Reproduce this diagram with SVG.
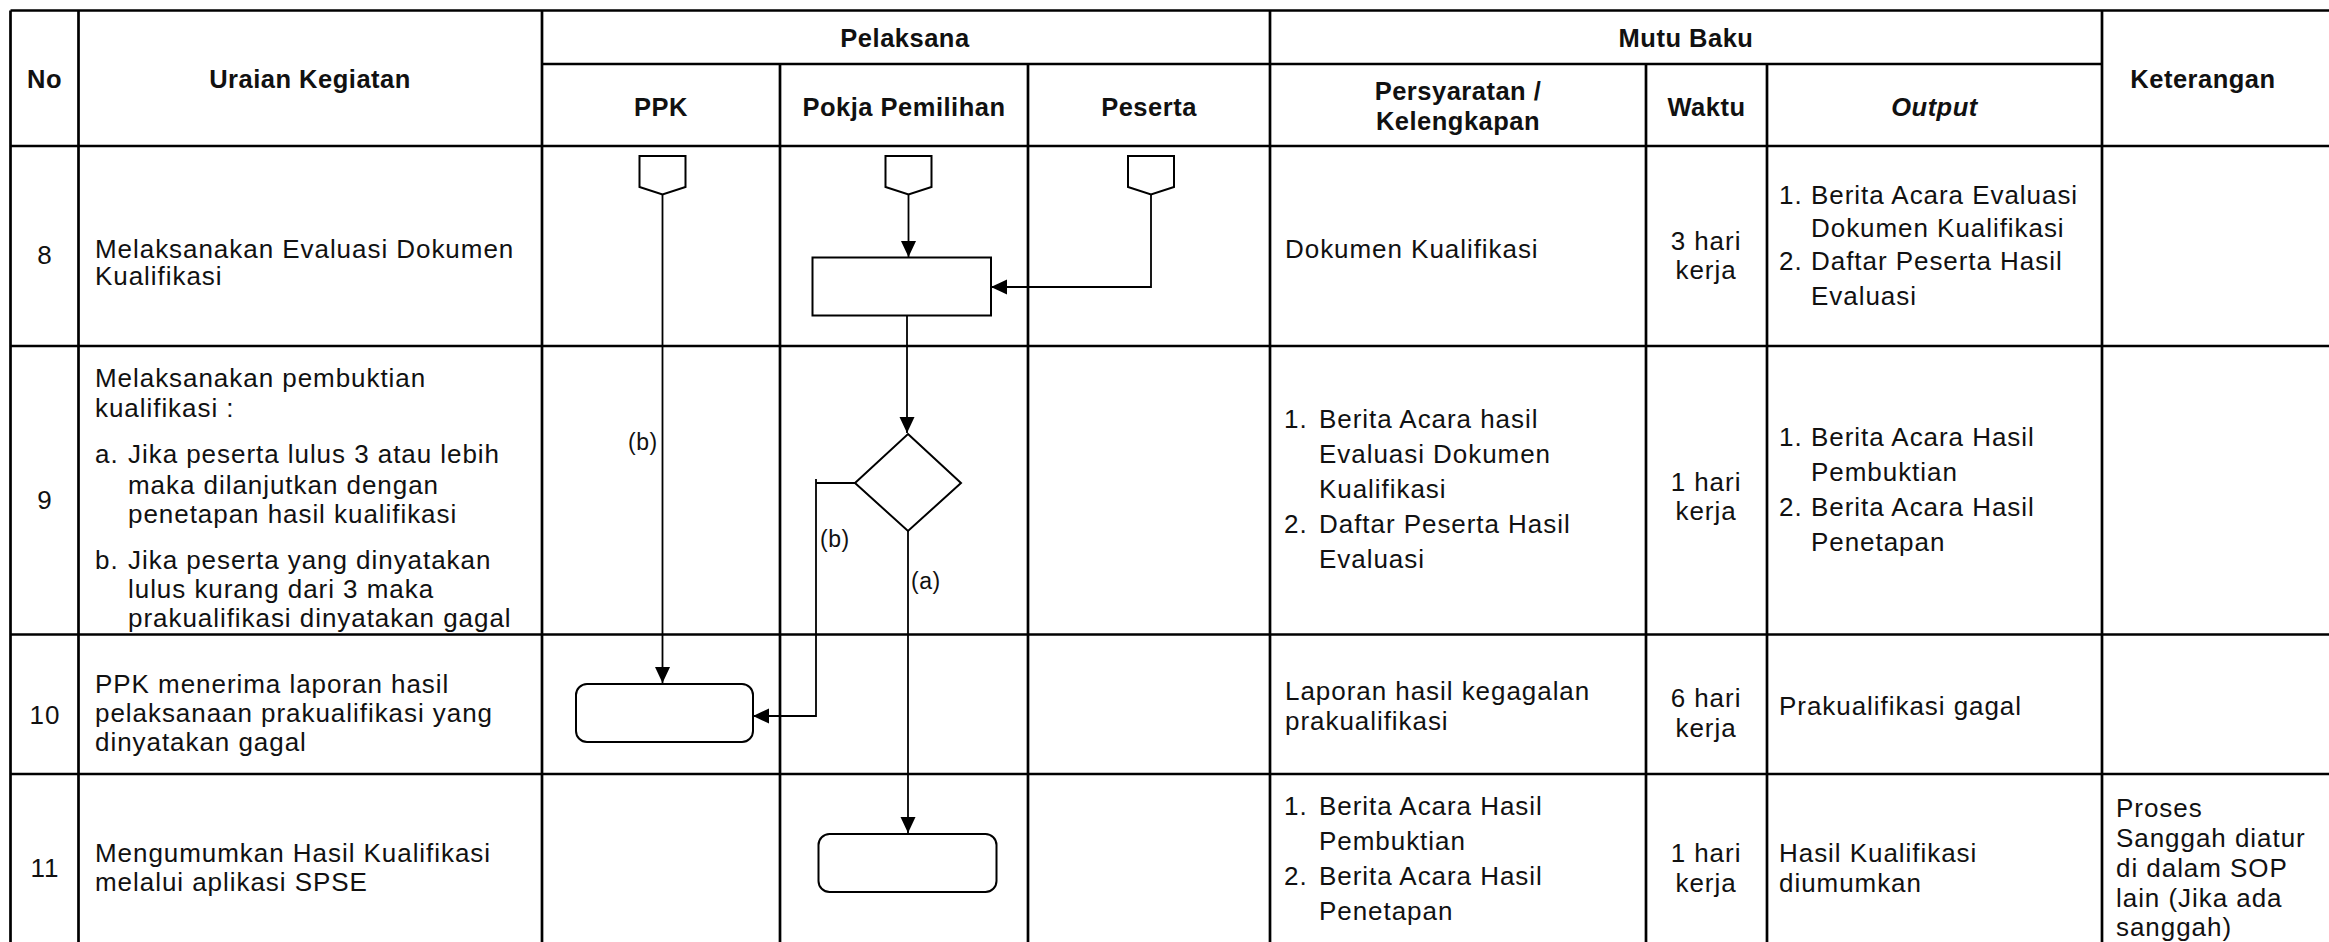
<svg xmlns="http://www.w3.org/2000/svg" width="2329" height="942" viewBox="0 0 2329 942">
<style>
.tl{stroke:#000;stroke-width:2.7;fill:none}
.cn{stroke:#000;stroke-width:1.8;fill:none}
.sh{stroke:#000;stroke-width:2;fill:#fff}
text{font-family:"Liberation Sans",Arial,sans-serif;font-size:26px;letter-spacing:0.95px;fill:#111}
.h{font-weight:bold;font-size:25.5px;letter-spacing:0.5px}
.c{text-anchor:middle}
.i{font-style:italic}
.lb{font-size:23px;letter-spacing:0.5px}
</style>
<defs>
<marker id="ah" markerUnits="userSpaceOnUse" markerWidth="16" markerHeight="16" refX="16" refY="7.5" orient="auto">
<path d="M0,0 L16,7.5 L0,15 z" fill="#000"/>
</marker>
</defs>
<rect width="2329" height="942" fill="#fff"/>
<g id="table">
<path class="tl" d="M10.5,10.5 H2329 M10.5,10.5 V942 M78.5,10.5 V942 M542,10.5 V942 M1270,10.5 V942 M2102,10.5 V942 M542,64 H2102 M780,64 V942 M1028,64 V942 M1646,64 V942 M1767,64 V942 M10.5,146 H2329 M10.5,346 H2329 M10.5,634.5 H2329 M10.5,774 H2329"/>
</g>
<g id="header">
<text class="h c" x="44.5" y="88">No</text>
<text class="h c" x="310" y="88">Uraian Kegiatan</text>
<text class="h c" x="905" y="47">Pelaksana</text>
<text class="h c" x="1686" y="47">Mutu Baku</text>
<text class="h c" x="661" y="116">PPK</text>
<text class="h c" x="904" y="116">Pokja Pemilihan</text>
<text class="h c" x="1149" y="116">Peserta</text>
<text class="h c" x="1458" y="100">Persyaratan /</text>
<text class="h c" x="1458" y="130">Kelengkapan</text>
<text class="h c" x="1706.5" y="116">Waktu</text>
<text class="h c i" x="1934.5" y="116">Output</text>
<text class="h c" x="2203" y="88">Keterangan</text>
</g>
<g id="row8-text">
<text class="c" x="45" y="264">8</text>
<text x="95" y="258">Melaksanakan Evaluasi Dokumen</text>
<text x="95" y="285">Kualifikasi</text>
<text x="1285" y="258">Dokumen Kualifikasi</text>
<text class="c" x="1706" y="250">3 hari</text>
<text class="c" x="1706" y="279">kerja</text>
<text x="1779" y="204">1.</text>
<text x="1811" y="204">Berita Acara Evaluasi</text>
<text x="1811" y="237">Dokumen Kualifikasi</text>
<text x="1779" y="270">2.</text>
<text x="1811" y="270">Daftar Peserta Hasil</text>
<text x="1811" y="305">Evaluasi</text>
</g>
<g id="row9-text">
<text class="c" x="45" y="509">9</text>
<text x="95" y="387">Melaksanakan pembuktian</text>
<text x="95" y="417">kualifikasi :</text>
<text x="95" y="463">a.</text>
<text x="128" y="463">Jika peserta lulus 3 atau lebih</text>
<text x="128" y="494">maka dilanjutkan dengan</text>
<text x="128" y="523">penetapan hasil kualifikasi</text>
<text x="95" y="569">b.</text>
<text x="128" y="569">Jika peserta yang dinyatakan</text>
<text x="128" y="598">lulus kurang dari 3 maka</text>
<text x="128" y="627">prakualifikasi dinyatakan gagal</text>
<text x="1284" y="428">1.</text>
<text x="1319" y="428">Berita Acara hasil</text>
<text x="1319" y="463">Evaluasi Dokumen</text>
<text x="1319" y="498">Kualifikasi</text>
<text x="1284" y="533">2.</text>
<text x="1319" y="533">Daftar Peserta Hasil</text>
<text x="1319" y="568">Evaluasi</text>
<text class="c" x="1706" y="491">1 hari</text>
<text class="c" x="1706" y="520">kerja</text>
<text x="1779" y="446">1.</text>
<text x="1811" y="446">Berita Acara Hasil</text>
<text x="1811" y="481">Pembuktian</text>
<text x="1779" y="516">2.</text>
<text x="1811" y="516">Berita Acara Hasil</text>
<text x="1811" y="551">Penetapan</text>
</g>
<g id="row10-text">
<text class="c" x="45" y="724">10</text>
<text x="95" y="693">PPK menerima laporan hasil</text>
<text x="95" y="722">pelaksanaan prakualifikasi yang</text>
<text x="95" y="751">dinyatakan gagal</text>
<text x="1285" y="700">Laporan hasil kegagalan</text>
<text x="1285" y="730">prakualifikasi</text>
<text class="c" x="1706" y="707">6 hari</text>
<text class="c" x="1706" y="737">kerja</text>
<text x="1779" y="715">Prakualifikasi gagal</text>
</g>
<g id="row11-text">
<text class="c" x="45" y="877">11</text>
<text x="95" y="862">Mengumumkan Hasil Kualifikasi</text>
<text x="95" y="891">melalui aplikasi SPSE</text>
<text x="1284" y="815">1.</text>
<text x="1319" y="815">Berita Acara Hasil</text>
<text x="1319" y="850">Pembuktian</text>
<text x="1284" y="885">2.</text>
<text x="1319" y="885">Berita Acara Hasil</text>
<text x="1319" y="920">Penetapan</text>
<text class="c" x="1706" y="862">1 hari</text>
<text class="c" x="1706" y="892">kerja</text>
<text x="1779" y="862">Hasil Kualifikasi</text>
<text x="1779" y="892">diumumkan</text>
<text x="2116" y="817">Proses</text>
<text x="2116" y="847">Sanggah diatur</text>
<text x="2116" y="877">di dalam SOP</text>
<text x="2116" y="907">lain (Jika ada</text>
<text x="2116" y="936">sanggah)</text>
</g>
<g id="connectors">
<path class="cn" d="M662.5,194.5 V683" marker-end="url(#ah)"/>
<path class="cn" d="M908.5,194.5 V257" marker-end="url(#ah)"/>
<path class="cn" d="M1151,194.5 V287 H991" marker-end="url(#ah)"/>
<path class="cn" d="M907,316 V433" marker-end="url(#ah)"/>
<path class="cn" d="M855,483 H816 M816,479 V716 H753" marker-end="url(#ah)"/>
<path class="cn" d="M908,531 V833" marker-end="url(#ah)"/>
<text class="lb" x="628" y="450">(b)</text>
<text class="lb" x="820" y="547">(b)</text>
<text class="lb" x="911" y="589">(a)</text>
</g>
<g id="ppk-start"><polygon class="sh" points="639.5,156 685.5,156 685.5,187 662.5,194.5 639.5,187"/></g>
<g id="pokja-start"><polygon class="sh" points="885.5,156 931.5,156 931.5,187 908.5,194.5 885.5,187"/></g>
<g id="peserta-start"><polygon class="sh" points="1128,156 1174,156 1174,187 1151,194.5 1128,187"/></g>
<g id="evaluasi"><rect class="sh" x="812.5" y="257.5" width="178.5" height="58"/></g>
<g id="decision"><polygon class="sh" points="908,434 961,483 908,531 855,483"/></g>
<g id="ppk-terima"><rect class="sh" x="576" y="684" width="177" height="58" rx="11"/></g>
<g id="umumkan"><rect class="sh" x="818.5" y="834" width="178" height="58" rx="11"/></g>
</svg>
